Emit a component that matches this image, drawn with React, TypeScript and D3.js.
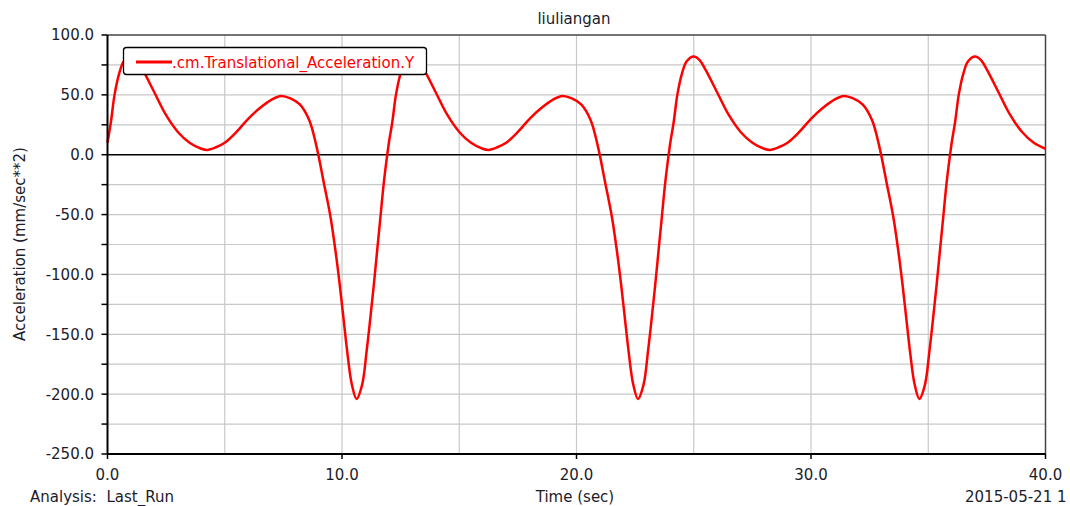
import React from "react";
import * as d3 from "d3";

// sampled from the plot (sec, mm/sec**2)
const timeSec = [
  0, 0.15, 0.3, 0.5, 0.7, 1, 1.25, 1.5, 2, 2.5, 3, 3.5, 4, 4.25, 4.6, 5, 5.5, 6, 6.5, 7, 7.4, 7.8, 8.2, 8.6, 8.9,
  9.23, 9.51, 9.72, 9.9, 10.06, 10.22, 10.42, 10.62, 10.86, 11.05, 11.21, 11.36, 11.5, 11.64, 11.78, 11.93,
  12, 12.15, 12.3, 12.5, 12.7, 13, 13.25, 13.5, 14, 14.5, 15, 15.5, 16, 16.25, 16.6, 17, 17.5, 18, 18.5, 19, 19.4,
  19.8, 20.2, 20.6, 20.9, 21.23, 21.51, 21.72, 21.9, 22.06, 22.22, 22.42, 22.62, 22.86, 23.05, 23.21, 23.36, 23.5,
  23.64, 23.78, 23.93,
  24, 24.15, 24.3, 24.5, 24.7, 25, 25.25, 25.5, 26, 26.5, 27, 27.5, 28, 28.25, 28.6, 29, 29.5, 30, 30.5, 31, 31.4,
  31.8, 32.2, 32.6, 32.9, 33.23, 33.51, 33.72, 33.9, 34.06, 34.22, 34.42, 34.62, 34.86, 35.05, 35.21, 35.36, 35.5,
  35.64, 35.78, 35.93,
  36, 36.15, 36.3, 36.5, 36.7, 37, 37.25, 37.5, 38, 38.5, 39, 39.5, 40,
];
const accelY = [
  10, 28, 50, 68, 78, 82, 79, 71, 52, 33, 19, 10, 5, 4, 6, 10, 19, 30, 39, 46, 49, 47, 42, 29, 8,
  -24, -52, -80, -108, -136, -164, -192, -204, -192, -164, -136, -108, -80, -52, -24, 0,
  10, 28, 50, 68, 78, 82, 79, 71, 52, 33, 19, 10, 5, 4, 6, 10, 19, 30, 39, 46, 49, 47, 42, 29, 8,
  -24, -52, -80, -108, -136, -164, -192, -204, -192, -164, -136, -108, -80, -52, -24, 0,
  10, 28, 50, 68, 78, 82, 79, 71, 52, 33, 19, 10, 5, 4, 6, 10, 19, 30, 39, 46, 49, 47, 42, 29, 8,
  -24, -52, -80, -108, -136, -164, -192, -204, -192, -164, -136, -108, -80, -52, -24, 0,
  10, 28, 50, 68, 78, 82, 79, 71, 52, 33, 19, 10, 5,
];

const xTickValues = [0, 10, 20, 30, 40];
const xGridValues = [5, 10, 15, 20, 25, 30, 35];
const yTickValues = [100, 50, 0, -50, -100, -150, -200, -250];
const yMinorValues = [100, 75, 50, 25, 0, -25, -50, -75, -100, -125, -150, -175, -200, -225, -250];
const yGridValues = [75, 50, 25, -25, -50, -75, -100, -125, -150, -175, -200, -225];

const W = 1070;
const H = 506;
const left = 107.5, right = 1045.5, top = 35, bottom = 454;
const font = "'DejaVu Sans', sans-serif";
const textColor = "#1c1c2a";

export default function App() {
  const x = d3.scaleLinear().domain([0, 40]).range([left, right]);
  const y = d3.scaleLinear().domain([-250, 100]).range([bottom, top]);

  const pts = timeSec.map((t, i) => [t, accelY[i]] as [number, number]);
  const line = d3
    .line<[number, number]>()
    .x((d) => x(d[0]))
    .y((d) => y(d[1]))
    .curve(d3.curveCatmullRom.alpha(0.5));

  return (
    <svg
      width={W}
      height={H}
      style={{ position: "absolute", left: 0, top: 0, background: "#fff" }}
      fontFamily={font}
    >
      <rect x={0} y={0} width={W} height={H} fill="#fff" />
      <text x={574} y={24} textAnchor="middle" fontSize={15} fill={textColor}>liuliangan</text>

      {/* grid */}
      {xGridValues.map((v) => (
        <line key={"gx" + v} x1={x(v)} x2={x(v)} y1={top} y2={bottom} stroke="#c8c8c8" strokeWidth={1.2} />
      ))}
      {yGridValues.map((v) => (
        <line key={"gy" + v} x1={left} x2={right} y1={y(v)} y2={y(v)} stroke="#c8c8c8" strokeWidth={1.2} />
      ))}
      <line x1={left} x2={right} y1={y(0)} y2={y(0)} stroke="#000" strokeWidth={1.4} />

      {/* frame */}
      <line x1={left} x2={right} y1={top} y2={top} stroke="#444" strokeWidth={1.5} />
      <line x1={right} x2={right} y1={top} y2={bottom} stroke="#444" strokeWidth={1.5} />

      {/* series */}
      <path d={line(pts) || ""} fill="none" stroke="#ff0000" strokeWidth={2.5} strokeLinejoin="round" />

      {/* axes */}
      <line x1={left} x2={left} y1={top} y2={bottom} stroke="#000" strokeWidth={2} />
      <line x1={left} x2={right} y1={bottom} y2={bottom} stroke="#000" strokeWidth={2} />
      {yMinorValues.map((v) => (
        <line key={"ty" + v} x1={left - 6} x2={left} y1={y(v)} y2={y(v)} stroke="#000" strokeWidth={1.5} />
      ))}
      {yTickValues.map((v) => (
        <text key={"ly" + v} x={94} y={y(v)} dy="0.36em" textAnchor="end" fontSize={15} fill={textColor}>
          {v.toFixed(1)}
        </text>
      ))}
      {xTickValues.map((v) => (
        <g key={"tx" + v}>
          <line x1={x(v)} x2={x(v)} y1={bottom} y2={bottom + 5} stroke="#000" strokeWidth={1.5} />
          <text x={x(v)} y={480} textAnchor="middle" fontSize={15} fill={textColor}>
            {v.toFixed(1)}
          </text>
        </g>
      ))}

      <text transform="translate(25,244) rotate(-90)" textAnchor="middle" fontSize={15} fill={textColor}>
        Acceleration (mm/sec**2)
      </text>
      <text x={575} y={502} textAnchor="middle" fontSize={15} fill={textColor}>Time (sec)</text>
      <text x={30} y={502} fontSize={15} fill={textColor} xmlSpace="preserve">Analysis:  Last_Run</text>
      <text x={965} y={502} fontSize={15} fill={textColor}>2015-05-21 1</text>

      {/* legend */}
      <rect x={123.5} y={47.5} width={303} height={27} rx={3} fill="#fff" stroke="#000" strokeWidth={1.3} />
      <line x1={136} x2={172} y1={62} y2={62} stroke="#ff0000" strokeWidth={3} />
      <text x={172} y={67.5} fontSize={15} fill="#ff0000">.cm.Translational_Acceleration.Y</text>
    </svg>
  );
}
